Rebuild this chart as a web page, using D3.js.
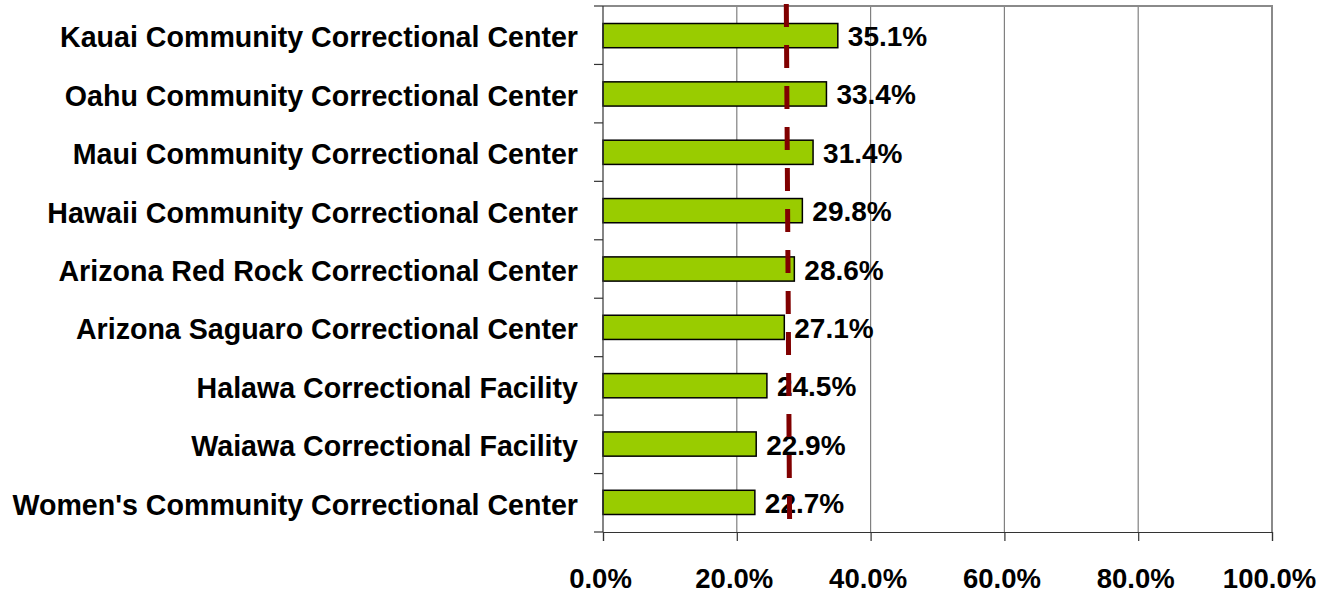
<!DOCTYPE html>
<html>
<head>
<meta charset="utf-8">
<script src="https://cdnjs.cloudflare.com/ajax/libs/d3/7.8.5/d3.min.js"></script>
<style>
  body { margin: 0; background: #fff; }
  text { font-family: "Liberation Sans", Arial, sans-serif; font-weight: bold; fill: #000; }
</style>
</head>
<body>
<div id="chart"></div>
<script>
'use strict';

// facilities, top to bottom
const facilities = [
    "Kauai Community Correctional Center",
    "Oahu Community Correctional Center",
    "Maui Community Correctional Center",
    "Hawaii Community Correctional Center",
    "Arizona Red Rock Correctional Center",
    "Arizona Saguaro Correctional Center",
    "Halawa Correctional Facility",
    "Waiawa Correctional Facility",
    "Women's Community Correctional Center"
];
const rates = [35.1, 33.4, 31.4, 29.8, 28.6, 27.1, 24.5, 22.9, 22.7];
const xTicks = [0, 20, 40, 60, 80, 100];
// dashed reference line, value at top and at bottom of the plot
const refLine = [27.4, 27.9];

const w = 1322, h = 595;
const margin = {top: 6, right: 50, bottom: 63, left: 603};

const svg = d3.select('#chart').append('svg')
    .attr('width', w)
    .attr('height', h);

const plotW = w - margin.left - margin.right;
const plotH = h - margin.top - margin.bottom;

const g = svg.append('g')
    .attr('transform', `translate(${margin.left},${margin.top})`);

const x = d3.scaleLinear().domain([0, 100]).range([0, plotW]);
const y = d3.scaleBand().domain(facilities).range([0, plotH]).paddingInner(0.585).paddingOuter(0.3);
const yOuter = d3.scaleBand().domain(facilities).range([0, plotH]);

// gridlines
g.selectAll('.grid')
    .data(xTicks.slice(1, -1))
    .join('line')
    .attr('x1', d => x(d)).attr('x2', d => x(d))
    .attr('y1', 0).attr('y2', plotH)
    .attr('stroke', '#808080').attr('stroke-width', 1.2);

// top and right border
g.append('path')
    .attr('d', `M0,0H${plotW}V${plotH}`)
    .attr('fill', 'none')
    .attr('stroke', '#8a8a8a')
    .attr('stroke-width', 2);

// bars
g.selectAll('.bar')
    .data(rates)
    .join('rect')
    .attr('x', x(0))
    .attr('y', (d, i) => y(facilities[i]))
    .attr('width', d => x(d))
    .attr('height', y.bandwidth())
    .attr('fill', '#99cc00')
    .attr('stroke', '#000')
    .attr('stroke-width', 1.5);

// value labels
g.selectAll('.val')
    .data(rates)
    .join('text')
    .attr('x', d => x(d) + 10)
    .attr('y', (d, i) => y(facilities[i]) + y.bandwidth() / 2)
    .attr('dy', 10.5)
    .style('font-size', '28px')
    .text(d => d.toFixed(1) + '%');

// dashed reference line
g.append('line')
    .attr('x1', x(refLine[0])).attr('y1', -2)
    .attr('x2', x(refLine[1])).attr('y2', plotH - 2)
    .attr('stroke', '#800000')
    .attr('stroke-width', 5)
    .attr('stroke-dasharray', '23 18');

// y axis
g.append('line')
    .attr('x1', 0).attr('x2', 0).attr('y1', 0).attr('y2', plotH)
    .attr('stroke', '#333').attr('stroke-width', 1.2);
g.selectAll('.ytick')
    .data(d3.range(facilities.length + 1))
    .join('line')
    .attr('x1', -9).attr('x2', 0)
    .attr('y1', i => i * yOuter.step()).attr('y2', i => i * yOuter.step())
    .attr('stroke', '#333').attr('stroke-width', 1.2);

g.selectAll('.cat')
    .data(facilities)
    .join('text')
    .attr('x', -25)
    .attr('y', d => yOuter(d) + yOuter.bandwidth() / 2)
    .attr('dy', 12)
    .attr('text-anchor', 'end')
    .style('font-size', '28.6px')
    .text(d => d);

// x axis
const xAxis = d3.axisBottom(x)
    .tickValues(xTicks)
    .tickSize(9)
    .tickFormat(d => d.toFixed(1) + '%');
const xg = g.append('g')
    .attr('transform', `translate(0,${plotH})`)
    .call(xAxis);
xg.select('.domain').attr('stroke', '#333').attr('stroke-width', 1.2);
xg.selectAll('.tick line').attr('stroke', '#333').attr('stroke-width', 1.2);
xg.selectAll('.tick text')
    .attr('x', -3)
    .attr('y', 56)
    .attr('dy', 0)
    .style('font-size', '27.5px')
    .style('font-family', '"Liberation Sans", Arial, sans-serif')
    .style('font-weight', 'bold')
    .attr('fill', '#000');
</script>
</body>
</html>
